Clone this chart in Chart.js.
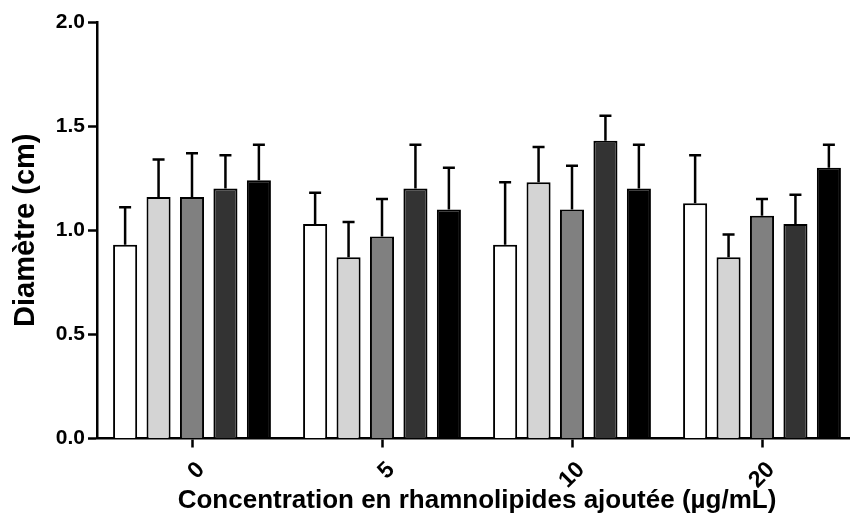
<!DOCTYPE html>
<html>
<head>
<meta charset="utf-8">
<script src="https://cdn.jsdelivr.net/npm/chart.js@4"></script>
<style>
  html, body { margin: 0; padding: 0; background: #ffffff; overflow: hidden; }
  #wrap { width: 860px; height: 522px; }
</style>
</head>
<body>
<div id="wrap"><canvas id="c" width="860" height="522"></canvas></div>
<script>
const categories = ['0', '5', '10', '20'];
const yTicks = [0.0, 0.5, 1.0, 1.5, 2.0];

const seriesA = [0.93, 1.03, 0.93, 1.13];
const seriesB = [1.16, 0.87, 1.23, 0.87];
const seriesC = [1.16, 0.97, 1.10, 1.07];
const seriesD = [1.20, 1.20, 1.43, 1.03];
const seriesE = [1.24, 1.10, 1.20, 1.30];

const errA = [0.18, 0.15, 0.30, 0.23];
const errB = [0.18, 0.17, 0.17, 0.11];
const errC = [0.21, 0.18, 0.21, 0.08];
const errD = [0.16, 0.21, 0.12, 0.14];
const errE = [0.17, 0.20, 0.21, 0.11];

const fills = ['#ffffff', '#d4d4d4', '#808080', '#333333', '#000000'];
const allSeries = [seriesA, seriesB, seriesC, seriesD, seriesE];
const allErr = [errA, errB, errC, errD, errE];

const FONT = "'Liberation Sans', Arial, sans-serif";

const errorBars = {
  id: 'errorBars',
  afterDatasetsDraw(chart) {
    const ctx = chart.ctx;
    const y = chart.scales.y;
    ctx.save();
    ctx.strokeStyle = '#000000';
    ctx.lineWidth = 2.5;
    chart.data.datasets.forEach((ds, di) => {
      const meta = chart.getDatasetMeta(di);
      meta.data.forEach((bar, i) => {
        const v = ds.data[i];
        const e = ds.errors[i];
        const yTop = y.getPixelForValue(v);
        const yCap = y.getPixelForValue(v + e);
        const x = bar.x;
        ctx.beginPath();
        ctx.moveTo(x, yTop);
        ctx.lineTo(x, yCap);
        ctx.moveTo(x - 6, yCap);
        ctx.lineTo(x + 6, yCap);
        ctx.stroke();
      });
    });
    ctx.restore();
  }
};

new Chart(document.getElementById('c'), {
  type: 'bar',
  data: {
    labels: categories,
    datasets: allSeries.map((s, i) => ({
      data: s,
      errors: allErr[i],
      backgroundColor: fills[i],
      borderColor: '#000000',
      borderWidth: 2,
      borderSkipped: 'bottom',
      categoryPercentage: 0.88,
      barPercentage: 0.72
    }))
  },
  options: {
    responsive: false,
    animation: false,
    layout: { padding: { top: 22, right: 3, left: 0, bottom: 0 } },
    plugins: { legend: { display: false }, tooltip: { enabled: false } },
    scales: {
      x: {
        grid: { display: true, drawOnChartArea: false, offset: false, tickLength: 9, tickWidth: 2.5, tickColor: '#000000' },
        border: { display: true, color: '#000000', width: 2.5 },
        ticks: { color: '#000000', font: { family: FONT, size: 23, weight: 'bold' }, minRotation: 45, maxRotation: 45, labelOffset: 9, padding: 9 },
        title: { display: true, text: 'Concentration en rhamnolipides ajoutée (µg/mL)', color: '#000000', font: { family: FONT, size: 26, weight: 'bold' }, padding: { top: 0, bottom: 6 } },
        afterFit(scale) { scale.height = 83.5; }
      },
      y: {
        min: 0, max: 2.0,
        afterBuildTicks(scale) { scale.ticks = yTicks.map(v => ({ value: v })); },
        grid: { display: true, drawOnChartArea: false, tickLength: 9, tickWidth: 2.5, tickColor: '#000000' },
        border: { display: true, color: '#000000', width: 2.5 },
        ticks: { color: '#000000', font: { family: FONT, size: 21, weight: 'bold' }, padding: 3, callback: (v) => Number(v).toFixed(1) },
        title: { display: true, text: 'Diamètre (cm)', color: '#000000', font: { family: FONT, size: 29, weight: 'bold' }, padding: { top: 9, bottom: 0 } },
        afterFit(scale) { scale.width = 97; }
      }
    }
  },
  plugins: [errorBars]
});
</script>
</body>
</html>
